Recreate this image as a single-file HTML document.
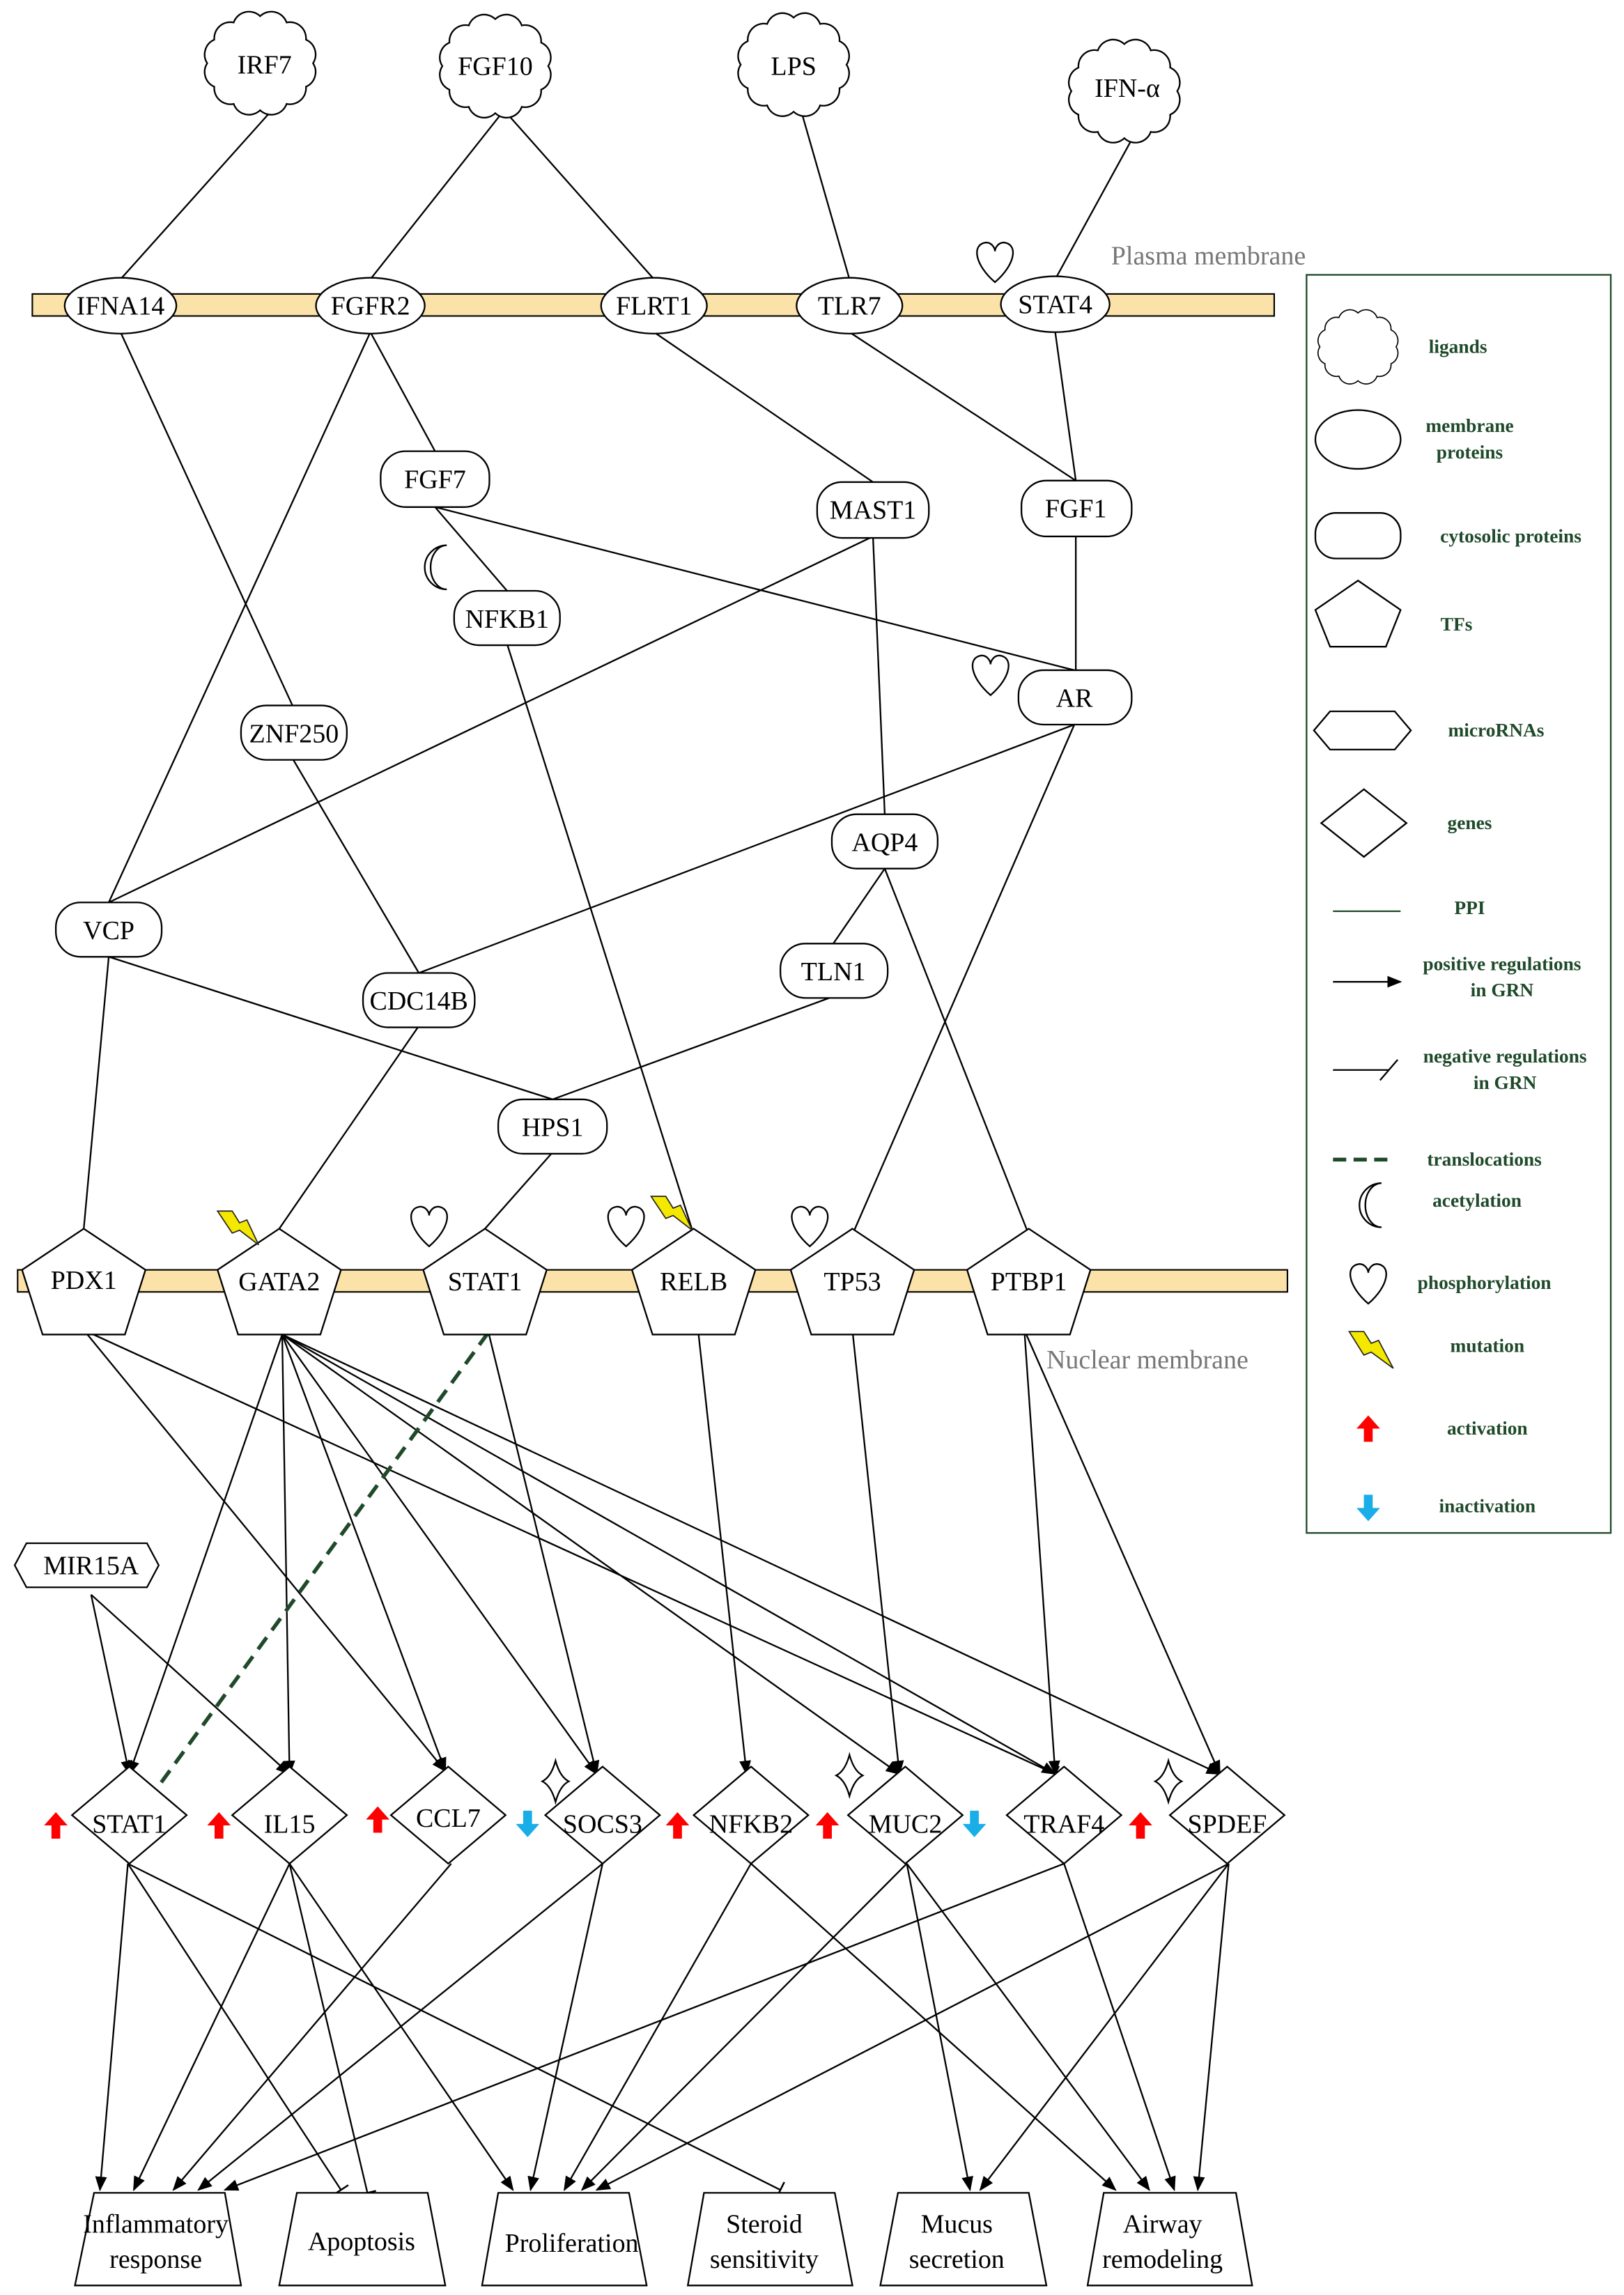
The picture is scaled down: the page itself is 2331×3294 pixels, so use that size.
<!DOCTYPE html>
<html><head><meta charset="utf-8"><style>html,body{margin:0;padding:0;background:#fff}svg{display:block}</style></head><body>
<svg width="2331" height="3294" viewBox="0 0 1105 1561.5" preserveAspectRatio="none" xmlns="http://www.w3.org/2000/svg" font-family="'Liberation Serif', serif">
<defs>
<marker id="ar" markerWidth="10" markerHeight="10" refX="9" refY="5" orient="auto" markerUnits="userSpaceOnUse"><path d="M0,1 L10,5 L0,9 Z" fill="#000"/></marker>
<marker id="bar" markerWidth="12" markerHeight="12" refX="1" refY="6" orient="auto" markerUnits="userSpaceOnUse"><path d="M1,0 L1,12" stroke="#000" stroke-width="1.2"/></marker>
</defs>
<g stroke="#000" stroke-width="1.1" fill="none">
<!-- upper PPI edges -->
<line x1="185" y1="75" x2="82" y2="190"/>
<line x1="343" y1="75" x2="252" y2="190"/>
<line x1="343" y1="75" x2="445" y2="190"/>
<line x1="545" y1="75" x2="578" y2="190"/>
<line x1="770" y1="95" x2="718" y2="190"/>
<line x1="82" y1="226" x2="199" y2="480"/>
<line x1="199" y1="516" x2="285" y2="662"/>
<line x1="252" y1="226" x2="74" y2="614"/>
<line x1="252" y1="226" x2="296" y2="307"/>
<line x1="445" y1="226" x2="594" y2="328"/>
<line x1="578" y1="226" x2="732" y2="327"/>
<line x1="718" y1="226" x2="732" y2="327"/>
<line x1="296" y1="345" x2="731" y2="456"/>
<line x1="296" y1="345" x2="345" y2="402"/>
<line x1="594" y1="365" x2="74" y2="614"/>
<line x1="594" y1="365" x2="602" y2="554"/>
<line x1="732" y1="364" x2="732" y2="456"/>
<line x1="345" y1="438" x2="472" y2="840"/>
<line x1="731" y1="493" x2="285" y2="662"/>
<line x1="731" y1="493" x2="580" y2="840"/>
<line x1="602" y1="591" x2="567" y2="642"/>
<line x1="602" y1="591" x2="700" y2="840"/>
<line x1="74" y1="651" x2="57" y2="836"/>
<line x1="74" y1="651" x2="376" y2="748"/>
<line x1="285" y1="698" x2="190" y2="836"/>
<line x1="567" y1="678" x2="376" y2="748"/>
<line x1="376" y1="784" x2="330" y2="836"/>
<!-- GRN edges -->
<line x1="57" y1="905" x2="303" y2="1205" marker-end="url(#ar)"/>
<line x1="57" y1="905" x2="718" y2="1207" marker-end="url(#bar)"/>
<line x1="192" y1="908" x2="88" y2="1207" marker-end="url(#ar)"/>
<line x1="192" y1="908" x2="197" y2="1207" marker-end="url(#ar)"/>
<line x1="192" y1="908" x2="303" y2="1205" marker-end="url(#ar)"/>
<line x1="192" y1="908" x2="406" y2="1207" marker-end="url(#ar)"/>
<line x1="192" y1="908" x2="612" y2="1207" marker-end="url(#ar)"/>
<line x1="192" y1="908" x2="718" y2="1207" marker-end="url(#ar)"/>
<line x1="192" y1="908" x2="830" y2="1207" marker-end="url(#ar)"/>
<line x1="332" y1="905" x2="406" y2="1207" marker-end="url(#ar)"/>
<line x1="62" y1="1085" x2="88" y2="1207" marker-end="url(#ar)"/>
<line x1="62" y1="1085" x2="197" y2="1207" marker-end="url(#ar)"/>
<line x1="475" y1="905" x2="508" y2="1207" marker-end="url(#ar)"/>
<line x1="580" y1="905" x2="612" y2="1207" marker-end="url(#ar)"/>
<line x1="697" y1="905" x2="718" y2="1207" marker-end="url(#ar)"/>
<line x1="697" y1="905" x2="830" y2="1207" marker-end="url(#ar)"/>
<!-- gene to outcome -->
<line x1="87" y1="1268" x2="68" y2="1490" marker-end="url(#ar)"/>
<line x1="87" y1="1268" x2="232" y2="1490" marker-end="url(#bar)"/>
<line x1="87" y1="1268" x2="531" y2="1490" marker-end="url(#bar)"/>
<line x1="197" y1="1268" x2="91" y2="1490" marker-end="url(#ar)"/>
<line x1="197" y1="1268" x2="250" y2="1492" marker-end="url(#bar)"/>
<line x1="197" y1="1268" x2="349" y2="1490" marker-end="url(#ar)"/>
<line x1="307" y1="1268" x2="118" y2="1490" marker-end="url(#ar)"/>
<line x1="410" y1="1268" x2="135" y2="1490" marker-end="url(#ar)"/>
<line x1="410" y1="1268" x2="361" y2="1490" marker-end="url(#ar)"/>
<line x1="511" y1="1268" x2="384" y2="1490" marker-end="url(#ar)"/>
<line x1="511" y1="1268" x2="759" y2="1490" marker-end="url(#ar)"/>
<line x1="617" y1="1268" x2="396" y2="1490" marker-end="url(#ar)"/>
<line x1="617" y1="1268" x2="660" y2="1490" marker-end="url(#ar)"/>
<line x1="617" y1="1268" x2="782" y2="1490" marker-end="url(#ar)"/>
<line x1="724" y1="1268" x2="153" y2="1490" marker-end="url(#ar)"/>
<line x1="724" y1="1268" x2="799" y2="1490" marker-end="url(#ar)"/>
<line x1="836" y1="1268" x2="406" y2="1490" marker-end="url(#ar)"/>
<line x1="836" y1="1268" x2="667" y2="1490" marker-end="url(#ar)"/>
<line x1="836" y1="1268" x2="815" y2="1490" marker-end="url(#ar)"/>
</g>
<line x1="332" y1="907" x2="103" y2="1222" stroke="#1f4a2a" stroke-width="2.6" stroke-dasharray="10,6"/>

<!-- membranes -->
<rect x="22" y="200" width="845" height="15" fill="#fbe2a8" stroke="#000" stroke-width="1"/>
<rect x="12" y="864" width="864" height="15" fill="#fbe2a8" stroke="#000" stroke-width="1"/>
<text x="756" y="180" font-size="18" fill="#777">Plasma membrane</text>
<text x="712" y="931" font-size="18" fill="#777">Nuclear membrane</text>

<!-- clouds -->
<g stroke="#000" stroke-width="1.1" fill="#fff">
<g id="cl">
<path d="M36,0 A11,11 0 0 1 31.2,16 A11,11 0 0 1 18,27.7 A11,11 0 0 1 0,32 A11,11 0 0 1 -18,27.7 A11,11 0 0 1 -31.2,16 A11,11 0 0 1 -36,0 A11,11 0 0 1 -31.2,-16 A11,11 0 0 1 -18,-27.7 A11,11 0 0 1 0,-32 A11,11 0 0 1 18,-27.7 A11,11 0 0 1 31.2,-16 A11,11 0 0 1 36,0Z" transform="translate(177,43)"/>
</g>
<path d="M36,0 A11,11 0 0 1 31.2,16 A11,11 0 0 1 18,27.7 A11,11 0 0 1 0,32 A11,11 0 0 1 -18,27.7 A11,11 0 0 1 -31.2,16 A11,11 0 0 1 -36,0 A11,11 0 0 1 -31.2,-16 A11,11 0 0 1 -18,-27.7 A11,11 0 0 1 0,-32 A11,11 0 0 1 18,-27.7 A11,11 0 0 1 31.2,-16 A11,11 0 0 1 36,0Z" transform="translate(337,45)"/>
<path d="M36,0 A11,11 0 0 1 31.2,16 A11,11 0 0 1 18,27.7 A11,11 0 0 1 0,32 A11,11 0 0 1 -18,27.7 A11,11 0 0 1 -31.2,16 A11,11 0 0 1 -36,0 A11,11 0 0 1 -31.2,-16 A11,11 0 0 1 -18,-27.7 A11,11 0 0 1 0,-32 A11,11 0 0 1 18,-27.7 A11,11 0 0 1 31.2,-16 A11,11 0 0 1 36,0Z" transform="translate(540,44)"/>
<path d="M36,0 A11,11 0 0 1 31.2,16 A11,11 0 0 1 18,27.7 A11,11 0 0 1 0,32 A11,11 0 0 1 -18,27.7 A11,11 0 0 1 -31.2,16 A11,11 0 0 1 -36,0 A11,11 0 0 1 -31.2,-16 A11,11 0 0 1 -18,-27.7 A11,11 0 0 1 0,-32 A11,11 0 0 1 18,-27.7 A11,11 0 0 1 31.2,-16 A11,11 0 0 1 36,0Z" transform="translate(765,62)"/>
<path d="M36,0 A11,11 0 0 1 31.2,16 A11,11 0 0 1 18,27.7 A11,11 0 0 1 0,32 A11,11 0 0 1 -18,27.7 A11,11 0 0 1 -31.2,16 A11,11 0 0 1 -36,0 A11,11 0 0 1 -31.2,-16 A11,11 0 0 1 -18,-27.7 A11,11 0 0 1 0,-32 A11,11 0 0 1 18,-27.7 A11,11 0 0 1 31.2,-16 A11,11 0 0 1 36,0Z" transform="translate(924,236) scale(0.72)"/>

<!-- membrane ellipses -->
<ellipse cx="82" cy="208" rx="38" ry="19"/>
<ellipse cx="252" cy="208" rx="37" ry="19"/>
<ellipse cx="445" cy="208" rx="36" ry="19"/>
<ellipse cx="578" cy="208" rx="36" ry="19"/>
<ellipse cx="718" cy="207" rx="37" ry="19"/>
<!-- cytosolic -->
<rect x="259" y="307" width="74" height="38" rx="17"/>
<rect x="556" y="328" width="76" height="38" rx="17"/>
<rect x="695" y="327" width="75" height="38" rx="17"/>
<rect x="309" y="402" width="72" height="37" rx="17"/>
<rect x="693" y="456" width="77" height="37" rx="17"/>
<rect x="164" y="480" width="72" height="37" rx="17"/>
<rect x="566" y="554" width="72" height="37" rx="17"/>
<rect x="38" y="614" width="72" height="37" rx="17"/>
<rect x="247" y="662" width="76" height="37" rx="17"/>
<rect x="531" y="642" width="73" height="37" rx="17"/>
<rect x="339" y="748" width="74" height="37" rx="17"/>
<!-- pentagons -->
<g id="pents">
<polygon points="0,-34 42,-6 28,38 -28,38 -42,-6" transform="translate(57,870)"/>
<polygon points="0,-34 42,-6 28,38 -28,38 -42,-6" transform="translate(190,870)"/>
<polygon points="0,-34 42,-6 28,38 -28,38 -42,-6" transform="translate(330,870)"/>
<polygon points="0,-34 42,-6 28,38 -28,38 -42,-6" transform="translate(472,870)"/>
<polygon points="0,-34 42,-6 28,38 -28,38 -42,-6" transform="translate(580,870)"/>
<polygon points="0,-34 42,-6 28,38 -28,38 -42,-6" transform="translate(700,870)"/>
</g>
<!-- hexagon -->
<polygon points="20,1050 102,1050 110,1065 102,1080 20,1080 12,1065" transform="translate(-2,0)"/>
<!-- diamonds -->
<polygon points="88,1202 127,1235 88,1268 49,1235"/>
<polygon points="197,1202 236,1235 197,1268 158,1235"/>
<polygon points="305,1202 344,1235 305,1268 266,1235"/>
<polygon points="410,1202 449,1235 410,1268 371,1235"/>
<polygon points="511,1202 550,1235 511,1268 472,1235"/>
<polygon points="616,1202 655,1235 616,1268 577,1235"/>
<polygon points="724,1202 763,1235 724,1268 685,1235"/>
<polygon points="835,1202 874,1235 835,1268 796,1235"/>
<!-- outcome trapezoids -->
<polygon points="64,1492 153,1492 164,1555 51,1555"/>
<polygon points="202,1492 291,1492 303,1555 190,1555"/>
<polygon points="339,1492 428,1492 440,1555 328,1555"/>
<polygon points="479,1492 568,1492 580,1555 468,1555"/>
<polygon points="611,1492 700,1492 712,1555 599,1555"/>
<polygon points="751,1492 841,1492 852,1555 740,1555"/>
<!-- stars -->
<path d="M0,-14 Q3,-3 9,0 Q3,3 0,14 Q-3,3 -9,0 Q-3,-3 0,-14Z" transform="translate(378,1212)"/>
<path d="M0,-14 Q3,-3 9,0 Q3,3 0,14 Q-3,3 -9,0 Q-3,-3 0,-14Z" transform="translate(578,1208)"/>
<path d="M0,-14 Q3,-3 9,0 Q3,3 0,14 Q-3,3 -9,0 Q-3,-3 0,-14Z" transform="translate(795,1212)"/>
<!-- hearts -->
<path d="M0,14 C-14,2 -16,-12 -6,-13 C-2,-13 0,-9 0,-7 C0,-9 2,-13 6,-13 C16,-12 14,2 0,14Z" transform="translate(677,178)"/>
<path d="M0,14 C-14,2 -16,-12 -6,-13 C-2,-13 0,-9 0,-7 C0,-9 2,-13 6,-13 C16,-12 14,2 0,14Z" transform="translate(674,459)"/>
<path d="M0,14 C-14,2 -16,-12 -6,-13 C-2,-13 0,-9 0,-7 C0,-9 2,-13 6,-13 C16,-12 14,2 0,14Z" transform="translate(292,834)"/>
<path d="M0,14 C-14,2 -16,-12 -6,-13 C-2,-13 0,-9 0,-7 C0,-9 2,-13 6,-13 C16,-12 14,2 0,14Z" transform="translate(426,834)"/>
<path d="M0,14 C-14,2 -16,-12 -6,-13 C-2,-13 0,-9 0,-7 C0,-9 2,-13 6,-13 C16,-12 14,2 0,14Z" transform="translate(551,834)"/>
<path d="M0,14 C-14,2 -16,-12 -6,-13 C-2,-13 0,-9 0,-7 C0,-9 2,-13 6,-13 C16,-12 14,2 0,14Z" transform="translate(931,873)"/>
<!-- moons -->
<path d="M6,-15 A15,15 0 1 0 6,15 A11,15 0 1 1 6,-15Z" transform="translate(298,386)"/>
<path d="M6,-15 A15,15 0 1 0 6,15 A11,15 0 1 1 6,-15Z" transform="translate(934,820)"/>
<!-- legend shapes -->
<rect x="889" y="187" width="207" height="856" fill="none" stroke="#1f4a2a"/>
<ellipse cx="924" cy="299" rx="29" ry="20"/>
<rect x="895" y="349" width="58" height="31" rx="14"/>
<polygon points="924,395 953,415 943,440 905,440 895,415"/>
<polygon points="905,484 949,484 960,497 949,510 905,510 894,497"/>
<polygon points="928,537 957,560 928,583 899,560"/>
</g>
<g stroke="#000" stroke-width="1.1">
<line x1="907" y1="620" x2="953" y2="620" stroke="#1f4a2a"/>
<line x1="907" y1="668" x2="953" y2="668" marker-end="url(#ar)"/>
<line x1="907" y1="728" x2="945" y2="728"/>
<line x1="939" y1="735" x2="951" y2="721"/>
</g>
<line x1="907" y1="789" x2="947" y2="789" stroke="#1f4a2a" stroke-width="2.6" stroke-dasharray="9,5"/>
<!-- lightning -->
<g fill="#f5e800" stroke="#222" stroke-width="0.8">
<polygon points="148,824 158,824 163,832 168,830 176,847 163,837 158,839"/>
<polygon points="443,814 453,814 458,822 463,820 471,837 458,827 453,829"/>
<polygon points="918,906 928,906 933,914 938,912 948,931 933,920 928,922"/>
</g>
<!-- red/blue arrows -->
<g>
<path d="M0,-9 L8,0 L3,0 L3,9 L-3,9 L-3,0 L-8,0Z" fill="#f00" transform="translate(38,1242)"/>
<path d="M0,-9 L8,0 L3,0 L3,9 L-3,9 L-3,0 L-8,0Z" fill="#f00" transform="translate(149,1242)"/>
<path d="M0,-9 L8,0 L3,0 L3,9 L-3,9 L-3,0 L-8,0Z" fill="#f00" transform="translate(257,1238)"/>
<path d="M0,9 L8,0 L3,0 L3,-9 L-3,-9 L-3,0 L-8,0Z" fill="#19aee8" transform="translate(359,1241)"/>
<path d="M0,-9 L8,0 L3,0 L3,9 L-3,9 L-3,0 L-8,0Z" fill="#f00" transform="translate(461,1242)"/>
<path d="M0,-9 L8,0 L3,0 L3,9 L-3,9 L-3,0 L-8,0Z" fill="#f00" transform="translate(563,1242)"/>
<path d="M0,9 L8,0 L3,0 L3,-9 L-3,-9 L-3,0 L-8,0Z" fill="#19aee8" transform="translate(663,1241)"/>
<path d="M0,-9 L8,0 L3,0 L3,9 L-3,9 L-3,0 L-8,0Z" fill="#f00" transform="translate(776,1242)"/>
<path d="M0,-9 L8,0 L3,0 L3,9 L-3,9 L-3,0 L-8,0Z" fill="#f00" transform="translate(931,972)"/>
<path d="M0,9 L8,0 L3,0 L3,-9 L-3,-9 L-3,0 L-8,0Z" fill="#19aee8" transform="translate(931,1026)"/>
</g>
<!-- labels -->
<g font-size="18" text-anchor="middle" fill="#000">
<text x="180" y="50">IRF7</text><text x="337" y="51">FGF10</text><text x="540" y="51">LPS</text><text x="767" y="66">IFN-α</text>
<text x="82" y="214">IFNA14</text><text x="252" y="214">FGFR2</text><text x="445" y="214">FLRT1</text><text x="578" y="214">TLR7</text><text x="718" y="213">STAT4</text>
<text x="296" y="332">FGF7</text><text x="594" y="353">MAST1</text><text x="732" y="352">FGF1</text><text x="345" y="427">NFKB1</text><text x="731" y="481">AR</text><text x="200" y="505">ZNF250</text><text x="602" y="579">AQP4</text><text x="74" y="639">VCP</text><text x="285" y="687">CDC14B</text><text x="567" y="667">TLN1</text><text x="376" y="773">HPS1</text>
<text x="57" y="877">PDX1</text><text x="190" y="878">GATA2</text><text x="330" y="878">STAT1</text><text x="472" y="878">RELB</text><text x="580" y="878">TP53</text><text x="700" y="878">PTBP1</text>
<text x="62" y="1071">MIR15A</text>
<text x="88" y="1247">STAT1</text><text x="197" y="1247">IL15</text><text x="305" y="1243">CCL7</text><text x="410" y="1247">SOCS3</text><text x="511" y="1247">NFKB2</text><text x="616" y="1247">MUC2</text><text x="724" y="1247">TRAF4</text><text x="835" y="1247">SPDEF</text>
<text x="106" y="1519">Inflammatory</text><text x="106" y="1543">response</text>
<text x="246" y="1531">Apoptosis</text>
<text x="389" y="1532">Proliferation</text>
<text x="520" y="1519">Steroid</text><text x="520" y="1543">sensitivity</text>
<text x="651" y="1519">Mucus</text><text x="651" y="1543">secretion</text>
<text x="791" y="1519">Airway</text><text x="791" y="1543">remodeling</text>
</g>
<g font-size="13" font-weight="bold" fill="#1f4a2a" text-anchor="middle">
<text x="992" y="240">ligands</text>
<text x="1000" y="294">membrane</text><text x="1000" y="312">proteins</text>
<text x="1028" y="369">cytosolic proteins</text>
<text x="991" y="429">TFs</text>
<text x="1018" y="501">microRNAs</text>
<text x="1000" y="564">genes</text>
<text x="1000" y="622">PPI</text>
<text x="1022" y="660">positive regulations</text><text x="1022" y="678">in GRN</text>
<text x="1024" y="723">negative regulations</text><text x="1024" y="741">in GRN</text>
<text x="1010" y="793">translocations</text>
<text x="1005" y="821">acetylation</text>
<text x="1010" y="877">phosphorylation</text>
<text x="1012" y="920">mutation</text>
<text x="1012" y="976">activation</text>
<text x="1012" y="1029">inactivation</text>
</g>
</svg>
</body></html>
